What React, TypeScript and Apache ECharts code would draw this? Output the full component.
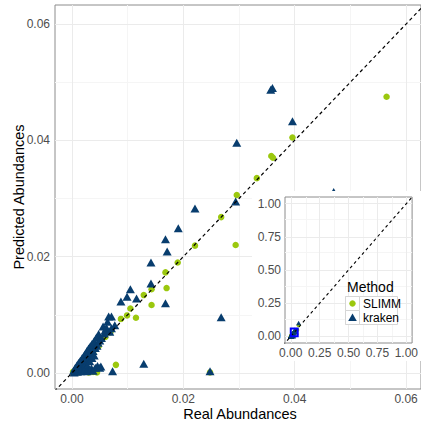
import React, { useEffect, useRef } from 'react';
import * as echarts from 'echarts';

const FONT = '"Liberation Sans", Arial, Helvetica, sans-serif';
const GREEN = '#9BC80E';
const NAVY = '#083D6E';

const slimmPoints: [number, number][] = [
  [0.0565, 0.0475], [0.0396, 0.0405], [0.0358, 0.0373], [0.0361, 0.037], [0.0332, 0.0335],
  [0.0296, 0.0306], [0.0268, 0.0268], [0.0294, 0.022], [0.0248, 0.0001], [0.0221, 0.0219],
  [0.019, 0.019], [0.0168, 0.0173], [0.0143, 0.0144], [0.017, 0.0146], [0.0129, 0.0134],
  [0.0143, 0.0117], [0.0105, 0.0111], [0.0099, 0.0099], [0.0115, 0.0095], [0.0088, 0.0093],
  [0.0079, 0.0014], [0.0069, 0.007], [0.006, 0.0062], [0.0054, 0.0058], [0.0048, 0.0046],
  [0.0043, 0.0045], [0.0038, 0.0034], [0.0035, 0.0031], [0.0028, 0.0026], [0.0022, 0.002],
  [0.0015, 0.0014], [0.0008, 0.0007], [0.0002, 0.0002], [0.0012, 0.0001], [0.0023, 0.0009],
  [0.003, 0.0001], [0.0038, 0.0002], [0.0045, 0.0001], [0.068, 0.084],
];

const krakenPoints: [number, number][] = [
  [0.036, 0.049], [0.0357, 0.0487], [0.0396, 0.0433], [0.0296, 0.0396], [0.0294, 0.0295],
  [0.047, 0.0311], [0.0268, 0.0096], [0.0248, 0.0003], [0.0221, 0.0283], [0.0191, 0.0249],
  [0.0168, 0.023], [0.0171, 0.0209], [0.0142, 0.019], [0.0142, 0.0154], [0.0105, 0.0144],
  [0.0099, 0.0131], [0.0116, 0.0128], [0.0088, 0.0123], [0.0168, 0.012], [0.0129, 0.0016],
  [0.0073, 0.0003], [0.0071, 0.0097], [0.0066, 0.0097], [0.0064, 0.0088], [0.0077, 0.0082],
  [0.0056, 0.008], [0.0071, 0.0077], [0.0068, 0.0071], [0.0048, 0.0067], [0.0048, 0.0064],
  [0.0052, 0.0011],
  [0.0003, 0.0004], [0.0006, 0.0009], [0.0009, 0.0013], [0.0012, 0.0017], [0.0015, 0.0021],
  [0.0018, 0.0025], [0.0021, 0.0029], [0.0024, 0.0033], [0.0027, 0.0038], [0.003, 0.0042],
  [0.0033, 0.0046], [0.0036, 0.005], [0.004, 0.0055], [0.0044, 0.0061],
  [0.0008, 0.0005], [0.0012, 0.001], [0.0015, 0.0008], [0.0018, 0.0015], [0.002, 0.0011],
  [0.0022, 0.002], [0.0025, 0.0016], [0.0026, 0.0024], [0.0028, 0.0012], [0.003, 0.0027],
  [0.0032, 0.002], [0.0034, 0.0033], [0.0036, 0.0026], [0.0038, 0.0038], [0.004, 0.003],
  [0.0042, 0.0043], [0.0045, 0.0047], [0.0047, 0.0052], [0.005, 0.0056], [0.0053, 0.006],
  [0.0058, 0.0068], [0.006, 0.0074], [0.0062, 0.0078],
  [0.0004, 0.0001], [0.001, 0.0002], [0.0016, 0.0003], [0.0022, 0.0004], [0.0027, 0.0003],
  [0.0031, 0.0006], [0.0035, 0.0008], [0.0038, 0.0004], [0.0042, 0.0009], [0.0046, 0.0012],
  [0.005, 0.0009],
  [0.068, 0.1],
];

const mainTicks = [0, 0.02, 0.04, 0.06];
const mainMinor = [0.01, 0.03, 0.05];
const insetTicks = [0, 0.25, 0.5, 0.75, 1];
const insetMinor = [0.125, 0.375, 0.625, 0.875];
const identityLine: [number, number][] = [[-0.1, -0.1], [1.1, 1.1]];
const zoomBox: [number, number][] = [[0, 0], [0.06, 0.06]];

const MAJOR = '#ebebeb';
const MINOR = '#f5f5f5';
const BORDER = '#8c8c8c';

function gridLines(major: number[], minor: number[]) {
  const out: any[] = [];
  minor.forEach((v) => {
    out.push({ xAxis: v, lineStyle: { color: MINOR, width: 1, type: 'solid' } });
    out.push({ yAxis: v, lineStyle: { color: MINOR, width: 1, type: 'solid' } });
  });
  major.forEach((v) => {
    out.push({ xAxis: v, lineStyle: { color: MAJOR, width: 1, type: 'solid' } });
    out.push({ yAxis: v, lineStyle: { color: MAJOR, width: 1, type: 'solid' } });
  });
  return out;
}

function axisCfg(gridIndex: number, min: number, max: number, ticks: number[], z: number, margin: number) {
  return {
    type: 'value',
    gridIndex,
    min,
    max,
    z,
    splitLine: { show: false },
    axisLine: { show: false },
    axisTick: { show: true, length: 3, lineStyle: { color: BORDER }, customValues: ticks },
    axisLabel: {
      customValues: ticks,
      formatter: (v: number) => v.toFixed(2),
      margin,
      color: '#4d4d4d',
      fontSize: 12,
      fontFamily: FONT,
    },
  };
}

export default function App() {
  const ref = useRef<HTMLDivElement>(null);
  useEffect(() => {
    if (!ref.current) return;
    const chart = echarts.init(ref.current, undefined, { renderer: 'svg' });
    const option: any = {
      animation: false,
      backgroundColor: '#ffffff',
      grid: [
        { left: 55, top: 5, right: -2, bottom: 37, show: true, borderColor: BORDER, borderWidth: 1, backgroundColor: '#fff', z: 0 },
        { left: 285, top: 197, right: 4, bottom: 83, show: true, borderColor: BORDER, borderWidth: 1, backgroundColor: '#fff', z: 10 },
      ],
      xAxis: [
        axisCfg(0, -0.003036, 0.06268, mainTicks, 0, 4),
        axisCfg(1, -0.05, 1.05, insetTicks, 10, 4),
      ],
      yAxis: [
        axisCfg(0, -0.00275, 0.06327, mainTicks, 0, 5),
        axisCfg(1, -0.05, 1.05, insetTicks, 10, 4),
      ],
      series: [
        {
          type: 'scatter', xAxisIndex: 0, yAxisIndex: 0, data: [[-1, -1]], symbolSize: 0, silent: true, z: 1,
          markLine: { silent: true, z: 1, symbol: ['none', 'none'], label: { show: false }, animation: false, data: gridLines(mainTicks, mainMinor) },
        },
        {
          name: 'SLIMM', type: 'scatter', xAxisIndex: 0, yAxisIndex: 0, data: slimmPoints, symbol: 'circle', symbolSize: 6.5,
          itemStyle: { color: GREEN, opacity: 1 }, z: 2,
        },
        {
          name: 'kraken', type: 'scatter', xAxisIndex: 0, yAxisIndex: 0, data: krakenPoints, symbol: 'triangle', symbolSize: [9, 8],
          itemStyle: { color: NAVY, opacity: 1 }, z: 3,
        },
        {
          type: 'line', xAxisIndex: 0, yAxisIndex: 0, data: identityLine, showSymbol: false, silent: true, z: 4,
          lineStyle: { color: '#000', width: 1.2, type: [3.5, 3] },
        },
        {
          type: 'scatter', xAxisIndex: 1, yAxisIndex: 1, data: [[-5, -5]], symbolSize: 0, silent: true, z: 11,
          markLine: { silent: true, z: 11, symbol: ['none', 'none'], label: { show: false }, animation: false, data: gridLines(insetTicks, insetMinor) },
        },
        {
          name: 'SLIMM', type: 'scatter', xAxisIndex: 1, yAxisIndex: 1, data: slimmPoints, symbol: 'circle', symbolSize: 4,
          itemStyle: { color: GREEN, opacity: 1 }, z: 12,
        },
        {
          name: 'kraken', type: 'scatter', xAxisIndex: 1, yAxisIndex: 1, data: krakenPoints, symbol: 'triangle', symbolSize: [5, 4.5],
          itemStyle: { color: NAVY, opacity: 1 }, z: 13,
        },
        {
          type: 'line', xAxisIndex: 1, yAxisIndex: 1, data: identityLine, showSymbol: false, silent: true, z: 14,
          lineStyle: { color: '#000', width: 1.1, type: [3, 3] },
          markArea: {
            silent: true, z: 15,
            itemStyle: { color: 'rgba(0,0,0,0)', borderColor: '#0000ff', borderWidth: 2 },
            label: { show: false },
            data: [[{ coord: zoomBox[0] }, { coord: zoomBox[1] }]],
          },
        },
      ],
      graphic: [
        { type: 'rect', z: 9, silent: true, shape: { x: 252, y: 191, width: 175, height: 170 }, style: { fill: '#fff' } },
        {
          type: 'text', z: 20, x: 240, y: 414,
          style: { text: 'Real Abundances', fill: '#000', fontSize: 14.5, fontFamily: FONT, align: 'center', verticalAlign: 'middle' },
        },
        {
          type: 'text', z: 20, x: 19, y: 197, rotation: Math.PI / 2,
          style: { text: 'Predicted Abundances', fill: '#000', fontSize: 14.5, fontFamily: FONT, align: 'center', verticalAlign: 'middle' },
        },
        {
          type: 'text', z: 20, x: 347, y: 287,
          style: { text: 'Method', fill: '#000', fontSize: 14, fontFamily: FONT, align: 'left', verticalAlign: 'middle' },
        },
        { type: 'rect', z: 20, shape: { x: 345.5, y: 296.5, width: 52, height: 28 }, style: { fill: '#fff', stroke: '#d6d6d6', lineWidth: 1 } },
        { type: 'rect', z: 21, shape: { x: 345.5, y: 296.5, width: 14, height: 14 }, style: { fill: '#fff', stroke: '#d6d6d6', lineWidth: 1 } },
        { type: 'rect', z: 21, shape: { x: 345.5, y: 310.5, width: 14, height: 14 }, style: { fill: '#fff', stroke: '#d6d6d6', lineWidth: 1 } },
        { type: 'circle', z: 22, shape: { cx: 352.5, cy: 303.5, r: 3.2 }, style: { fill: GREEN } },
        { type: 'polygon', z: 22, shape: { points: [[352.5, 313.5], [356.8, 321], [348.2, 321]] }, style: { fill: NAVY } },
        {
          type: 'text', z: 22, x: 363, y: 303.5,
          style: { text: 'SLIMM', fill: '#000', fontSize: 12, fontFamily: FONT, align: 'left', verticalAlign: 'middle' },
        },
        {
          type: 'text', z: 22, x: 363, y: 317.5,
          style: { text: 'kraken', fill: '#000', fontSize: 12, fontFamily: FONT, align: 'left', verticalAlign: 'middle' },
        },
      ],
    };
    chart.setOption(option);
    return () => chart.dispose();
  }, []);
  return <div ref={ref} style={{ position: 'fixed', left: 0, top: 0, width: 421, height: 426 }} />;
}
